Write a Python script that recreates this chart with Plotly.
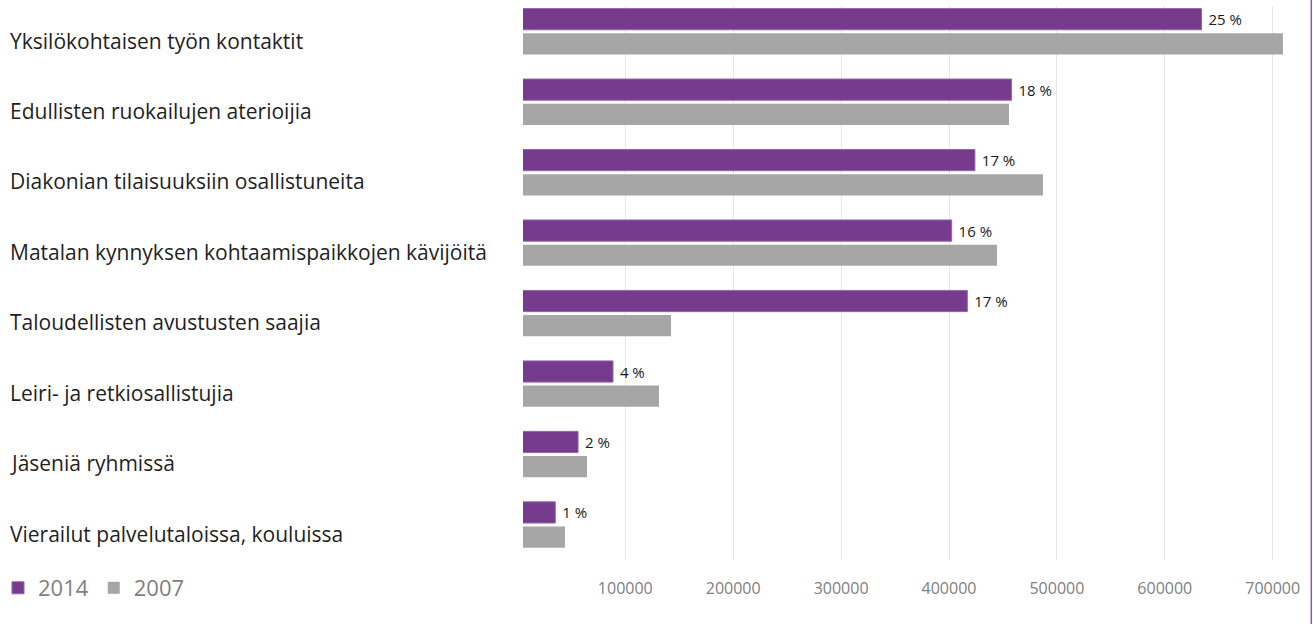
import plotly.graph_objects as go

categories = [
    "Yksilökohtaisen työn kontaktit",
    "Edullisten ruokailujen aterioijia",
    "Diakonian tilaisuuksiin osallistuneita",
    "Matalan kynnyksen kohtaamispaikkojen kävijöitä",
    "Taloudellisten avustusten saajia",
    "Leiri- ja retkiosallistujia",
    "Jäseniä ryhmissä",
    "Vierailut palvelutaloissa, kouluissa",
]
values_2014 = [634000, 458000, 424000, 402500, 417000, 88600, 56200, 35100]
values_2007 = [709500, 455600, 487100, 444500, 142400, 131200, 64500, 44100]
pct_2014 = ["25 %", "18 %", "17 %", "16 %", "17 %", "4 %", "2 %", "1 %"]
tick_vals = [100000, 200000, 300000, 400000, 500000, 600000, 700000]
tick_text = ["100000", "200000", "300000", "400000", "500000", "600000", "700000"]

W, H = 1313, 624
ML, MR, MT, MB = 523, 13, 6, 64
plot_w = W - ML - MR
plot_h = H - MT - MB

fig = go.Figure()
fig.add_trace(go.Bar(
    y=categories, x=values_2014, orientation="h", name="2014",
    marker=dict(color="#763B8D", line=dict(color="#9467AA", width=1)),
    text=pct_2014, texttemplate="\u00a0%{text}",
    textposition="outside", constraintext="none",
    textfont=dict(family="Open Sans", size=15, color="#1a1a1a"),
    cliponaxis=False,
))
fig.add_trace(go.Bar(
    y=categories, x=values_2007, orientation="h", name="2007",
    marker=dict(color="#A6A6A6", line=dict(width=0)),
))

for c in categories:
    fig.add_annotation(
        x=(8 - ML) / plot_w, xref="paper", xanchor="left",
        y=c, yref="y", yanchor="middle", yshift=-9,
        text=c, showarrow=False,
        font=dict(family="Open Sans", size=21, color="#1f1f1f"),
    )

fig.add_shape(
    type="line", xref="paper", yref="paper",
    x0=(1311.3 - ML) / plot_w, x1=(1311.3 - ML) / plot_w,
    y0=-MB / plot_h, y1=1 + MT / plot_h,
    line=dict(color="#8B5A9E", width=1.5),
)

fig.update_layout(
    width=W, height=H,
    margin=dict(l=ML, r=MR, t=MT, b=MB, pad=0, autoexpand=False),
    paper_bgcolor="white", plot_bgcolor="white",
    barmode="group", bargap=0.3, bargroupgap=0.14,
    showlegend=True,
    legend=dict(
        orientation="h", x=(-2 - ML) / plot_w, xanchor="left",
        y=-(588 - (H - MB)) / plot_h, yanchor="middle",
        font=dict(family="Open Sans", size=22, color="#808080"),
        itemwidth=30, traceorder="normal",
    ),
    xaxis=dict(
        range=[5190, 725300], tickvals=tick_vals, ticktext=tick_text,
        showgrid=True, gridcolor="#E6E6E6", gridwidth=1,
        zeroline=False, showline=False,
        ticks="outside", ticklen=14, tickcolor="rgba(0,0,0,0)",
        tickfont=dict(family="Open Sans", size=16, color="#808080"),
    ),
    yaxis=dict(
        type="category", categoryorder="array", categoryarray=categories,
        range=[7.5, -0.362], showticklabels=False, showgrid=False,
        zeroline=False, showline=False,
    ),
)

fig.write_html(
    "out.html",
    config={"displayModeBar": False},
    post_script="document.body.style.margin='0px';",
)
